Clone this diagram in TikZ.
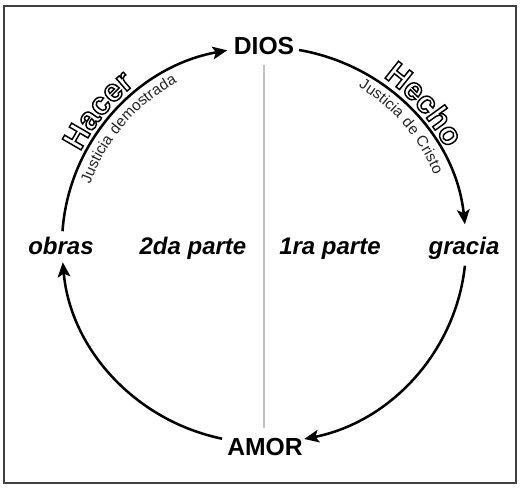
\documentclass[tikz,border=0pt]{standalone}
\usepackage{fontspec}
\setmainfont{Liberation Sans}
\newfontfamily\hfont[LetterSpace=6]{Liberation Sans Bold}
\newfontfamily\sfont[LetterSpace=5]{Liberation Sans}
\usetikzlibrary{arrows.meta,decorations.text,calc}
\newcommand\outlineon{\special{pdf:literal direct 1 Tr 1.1 w 0 G}}
\begin{document}
\begin{tikzpicture}[x=0.75pt,y=0.75pt,
  cyc/.style={line width=1.9pt, -{Stealth[length=11pt,width=9.5pt,inset=2.5pt]}},
  lbl/.style={font=\fontsize{18}{20}\selectfont\bfseries\itshape, anchor=base, inner sep=0pt},
  topl/.style={font=\fontsize{18.5}{20}\selectfont\bfseries, anchor=base, inner sep=0pt},
  frame/.style={line width=2pt, black!75},
  midline/.style={gray!50, line width=0.8pt},
]
\useasboundingbox (0,0) rectangle (530,490);
\fill[white] (0,0) rectangle (530,490);
\draw[frame] (4,7) rectangle (516,484);
\coordinate (c) at (264,245);
\coordinate (vt) at (264,425);
\coordinate (vb) at (264,62);
\draw[midline] (vt) -- (vb);

\node[topl] (dios) at (264,435) {DIOS};
\node[topl] (amor) at (265,35) {AMOR};
\node[lbl] (obras) at (61,236) {obras};
\node[lbl] (gracia) at (464,236) {gracia};
\node[lbl] (p2) at (193,236) {2da parte};
\node[lbl] (p1) at (330,236) {1ra parte};

% cycle arcs
\coordinate (a1) at ($(c)+(176:202 and 198)$);
\coordinate (a2) at ($(c)+(80:202 and 198)$);
\coordinate (a3) at ($(c)+(-6:202 and 198)$);
\coordinate (a4) at ($(c)+(-102:202 and 198)$);
\draw[cyc] (a1) arc[start angle=176, end angle=100.5, x radius=202, y radius=198];
\draw[cyc] (a2) arc[start angle=80, end angle=6, x radius=202, y radius=198];
\draw[cyc] (a3) arc[start angle=-6, end angle=-78.5, x radius=202, y radius=198];
\draw[cyc] (a4) arc[start angle=-102, end angle=-175, x radius=202, y radius=198];

% Hacer (outlined)
\coordinate (h1) at ($(c)+(170:206)$);
\begin{scope}
\path[decorate, decoration={text along path, text align=center,
    text={|\hfont\fontsize{23.5}{25}\selectfont\outlineon|Hacer}}]
    (h1) arc[start angle=170, end angle=112, radius=206];
\end{scope}

% Justicia demostrada
\coordinate (j1) at ($(c)+(175:184)$);
\path[decorate, decoration={text along path, text color=black!85, text align=center,
    text={|\sfont\fontsize{11.5}{13}\selectfont|Justicia demostrada}}]
    (j1) arc[start angle=175, end angle=104, radius=184];

% Hecho (outlined)
\coordinate (k1) at ($(c)+(75:206)$);
\begin{scope}
\path[decorate, decoration={text along path, text align=center,
    text={|\hfont\fontsize{23.5}{25}\selectfont\outlineon|Hecho}}]
    (k1) arc[start angle=75, end angle=7.6, radius=206];
\end{scope}

% Justicia de Cristo
\coordinate (m1) at ($(c)+(75:184)$);
\path[decorate, decoration={text along path, text color=black!85, text align=center,
    text={|\sfont\fontsize{11.5}{13}\selectfont|Justicia de Cristo}}]
    (m1) arc[start angle=75, end angle=6.5, radius=184];
\end{tikzpicture}
\end{document}
